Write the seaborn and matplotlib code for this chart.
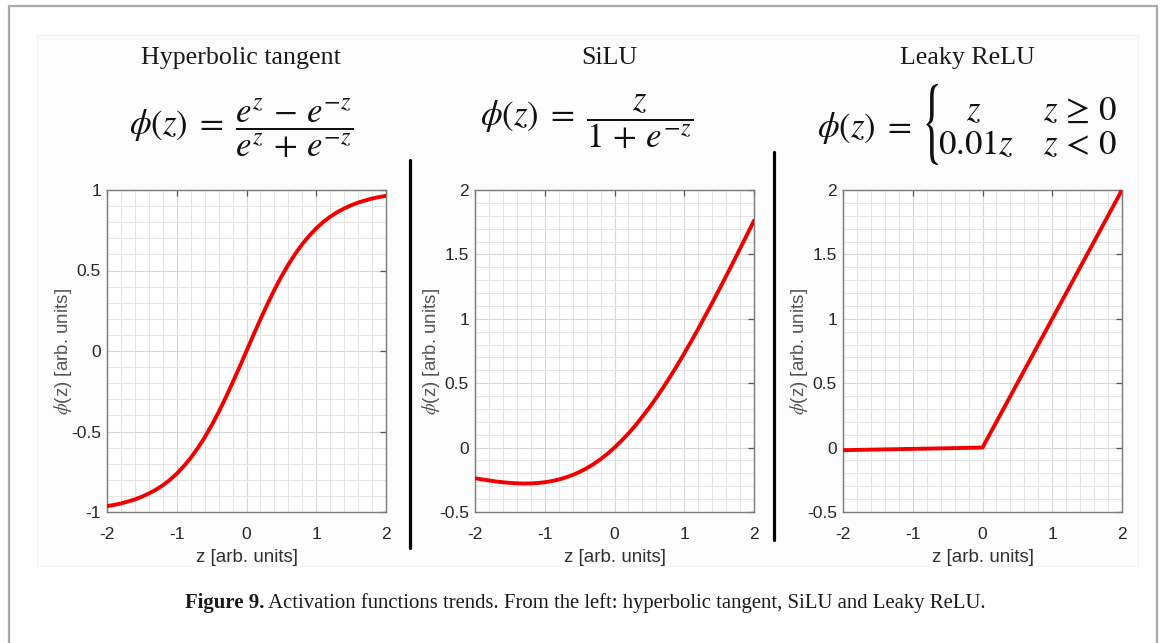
import matplotlib
matplotlib.use("Agg")
import matplotlib.pyplot as plt
from matplotlib.lines import Line2D
from matplotlib.patches import Rectangle, PathPatch
from matplotlib.textpath import TextPath
from matplotlib.font_manager import FontProperties
from matplotlib.transforms import Affine2D
from matplotlib.ticker import MultipleLocator, FixedLocator
import pandas as pd
import seaborn as sns

# ---- data -------------------------------------------------------------
z_values = [-2.0, -1.9, -1.8, -1.7, -1.6, -1.5, -1.4, -1.3, -1.2, -1.1,
            -1.0, -0.9, -0.8, -0.7, -0.6, -0.5, -0.4, -0.3, -0.2, -0.1,
            0.0, 0.1, 0.2, 0.3, 0.4, 0.5, 0.6, 0.7, 0.8, 0.9,
            1.0, 1.1, 1.2, 1.3, 1.4, 1.5, 1.6, 1.7, 1.8, 1.9, 2.0]

tanh_values = [-0.964, -0.956, -0.947, -0.935, -0.922, -0.905, -0.885, -0.862, -0.834, -0.801,
               -0.762, -0.716, -0.664, -0.604, -0.537, -0.462, -0.380, -0.291, -0.197, -0.100,
               0.000, 0.100, 0.197, 0.291, 0.380, 0.462, 0.537, 0.604, 0.664, 0.716,
               0.762, 0.801, 0.834, 0.862, 0.885, 0.905, 0.922, 0.935, 0.947, 0.956, 0.964]

silu_values = [-0.238, -0.247, -0.255, -0.263, -0.269, -0.274, -0.277, -0.279, -0.278, -0.275,
               -0.269, -0.260, -0.248, -0.232, -0.213, -0.189, -0.161, -0.128, -0.090, -0.048,
               0.000, 0.053, 0.110, 0.172, 0.240, 0.311, 0.387, 0.468, 0.552, 0.640,
               0.731, 0.825, 0.922, 1.022, 1.123, 1.226, 1.331, 1.437, 1.545, 1.653, 1.762]

leaky_z = [-2.0, 0.0, 2.0]
leaky_values = [-0.02, 0.0, 2.0]

panel_titles = ["Hyperbolic tangent", "SiLU", "Leaky ReLU"]
tanh_formula = r"$\phi(z)\;=\;\dfrac{e^{z}\,-\,e^{-z}}{e^{z}\,+\,e^{-z}}$"
silu_formula = r"$\phi(z)\;=\;\dfrac{z}{1\,+\,e^{-z}}$"
leaky_lhs = r"$\phi(z)\;=$"
leaky_cases = [r"$z$", r"$0.01z$"]
leaky_conditions = [r"$z\,\geq\,0$", r"$z\,<\,0$"]
x_ticks = [-2, -1, 0, 1, 2]
x_tick_labels = ["-2", "-1", "0", "1", "2"]
y_ticks_tanh = [-1, -0.5, 0, 0.5, 1]
y_tick_labels_tanh = ["-1", "-0.5", "0", "0.5", "1"]
y_ticks_other = [-0.5, 0, 0.5, 1, 1.5, 2]
y_tick_labels_other = ["-0.5", "0", "0.5", "1", "1.5", "2"]
x_label = "z [arb. units]"
y_label = r"$\phi$(z) [arb. units]"
caption_bold = "Figure 9."
caption_text = " Activation functions trends. From the left: hyperbolic tangent, SiLU and Leaky ReLU."

frames = [
    pd.DataFrame({"z": z_values, "phi": tanh_values}),
    pd.DataFrame({"z": z_values, "phi": silu_values}),
    pd.DataFrame({"z": leaky_z, "phi": leaky_values}),
]
y_limits = [(-1, 1), (-0.5, 2), (-0.5, 2)]
y_tick_sets = [(y_ticks_tanh, y_tick_labels_tanh),
               (y_ticks_other, y_tick_labels_other),
               (y_ticks_other, y_tick_labels_other)]

# ---- style ------------------------------------------------------------
sns.set_style("white")
plt.rcParams["font.family"] = ["Liberation Sans", "DejaVu Sans"]
plt.rcParams["mathtext.fontset"] = "stix"
plt.rcParams["axes.unicode_minus"] = False

W, H = 1168, 643
fig = plt.figure(figsize=(W / 100, H / 100), dpi=100)
fig.patch.set_facecolor("white")


def fx(px):
    return px / W


def fy(py):
    return 1 - py / H


# page frame and faint image panel
fig.add_artist(Rectangle((fx(37), fy(566)), fx(1138) - fx(37), fy(35) - fy(566),
                         transform=fig.transFigure, facecolor="#fcfcfc",
                         edgecolor="#f3f3f3", lw=0.8, zorder=0))
frame_kw = dict(transform=fig.transFigure, color="#a9a9a9", lw=1.6, zorder=1)
fig.add_artist(Line2D([fx(8.5), fx(8.5)], [fy(6), fy(643)], **frame_kw))
fig.add_artist(Line2D([fx(8.5), fx(1157)], [fy(6), fy(6)], **frame_kw))
fig.add_artist(Line2D([fx(1157), fx(1157)], [fy(6), fy(643)], **frame_kw))

# separators between panels
sep_kw = dict(transform=fig.transFigure, color="black", lw=2.3, zorder=2)
fig.add_artist(Line2D([fx(410), fx(410)], [fy(160), fy(548)], **sep_kw))
fig.add_artist(Line2D([fx(774), fx(774)], [fy(152), fy(540)], **sep_kw))

ax_lefts = [107, 475, 843]
ax_top, ax_bottom, ax_width = 190, 512, 279
title_x = [241, 609, 967]

for i, (df, ylim, (yt, ytl)) in enumerate(zip(frames, y_limits, y_tick_sets)):
    ax = fig.add_axes([fx(ax_lefts[i]), fy(ax_bottom), fx(ax_width),
                       (ax_bottom - ax_top) / H])
    ax.set_facecolor("white")
    sns.lineplot(data=df, x="z", y="phi", ax=ax, color="#f20000", lw=2.8,
                 zorder=5)
    ax.set_xlim(-2, 2)
    ax.set_ylim(*ylim)
    ax.xaxis.set_major_locator(FixedLocator(x_ticks))
    ax.set_xticklabels(x_tick_labels)
    ax.yaxis.set_major_locator(FixedLocator(yt))
    ax.set_yticklabels(ytl)
    ax.xaxis.set_minor_locator(MultipleLocator(0.2))
    ax.yaxis.set_minor_locator(MultipleLocator(0.1))
    ax.grid(which="major", color="#d6d6d6", lw=0.8, zorder=0)
    ax.grid(which="minor", color="#e4e4e4", lw=0.7, zorder=0)
    ax.set_axisbelow(True)
    ax.tick_params(which="major", direction="in", length=4, width=0.9,
                   color="#555555", top=True, right=True, labelsize=12.5,
                   labelcolor="#262626")
    ax.tick_params(axis="x", which="major", pad=11)
    ax.tick_params(axis="y", which="major", pad=4.3)
    ax.tick_params(which="minor", length=0)
    for s in ax.spines.values():
        s.set_color("#7a7a7a")
        s.set_linewidth(1.0)
        s.set_visible(True)
    ax.set_xlabel(x_label, fontsize=13.5, color="#303030", labelpad=5)
    ax.set_ylabel(y_label, fontsize=13.5, color="#555555", labelpad=-2)

    fig.text(fx(title_x[i]), fy(64), panel_titles[i], ha="center", va="baseline",
             fontsize=18.7, family=["Liberation Serif", "DejaVu Serif"],
             color="#1a1a1a")

# formulas above each panel
fkw = dict(fontsize=25, color="#111111")
fig.text(fx(241), fy(128), tanh_formula, ha="center", va="center", **fkw)
fig.text(fx(587), fy(122), silu_formula, ha="center", va="center", **fkw)

fig.text(fx(817), fy(137), leaky_lhs, ha="left", va="baseline", **fkw)
fig.text(fx(974), fy(120), leaky_cases[0], ha="center", va="baseline", **fkw)
fig.text(fx(976), fy(154), leaky_cases[1], ha="center", va="baseline", **fkw)
fig.text(fx(1080), fy(120), leaky_conditions[0], ha="center", va="baseline", **fkw)
fig.text(fx(1080), fy(154), leaky_conditions[1], ha="center", va="baseline", **fkw)

# tall, narrow curly brace for the piecewise definition
brace = TextPath((0, 0), r"$\{$", size=40,
                 prop=FontProperties(math_fontfamily="stix"))
ext = brace.get_extents()
brace_left, brace_top, brace_w, brace_h = 926, 84, 12, 81
brace_tf = (Affine2D()
            .translate(-ext.x0, -ext.y0)
            .scale(brace_w / ext.width / W, brace_h / ext.height / H)
            .translate(fx(brace_left), fy(brace_top + brace_h))
            + fig.transFigure)
fig.add_artist(PathPatch(brace, transform=brace_tf, facecolor="#111111",
                         edgecolor="none", zorder=3))

# caption with bold figure number
renderer = fig.canvas.get_renderer()
cap_kw = dict(va="center", fontsize=14.95, family=["Liberation Serif", "DejaVu Serif"],
              color="#1a1a1a")
t_bold = fig.text(fx(185), fy(603), caption_bold, ha="left", weight="bold", **cap_kw)
bb = t_bold.get_window_extent(renderer)
fig.text(bb.x1 / W, fy(603), caption_text, ha="left", **cap_kw)

fig.savefig("out.png", dpi=100, facecolor="white")
